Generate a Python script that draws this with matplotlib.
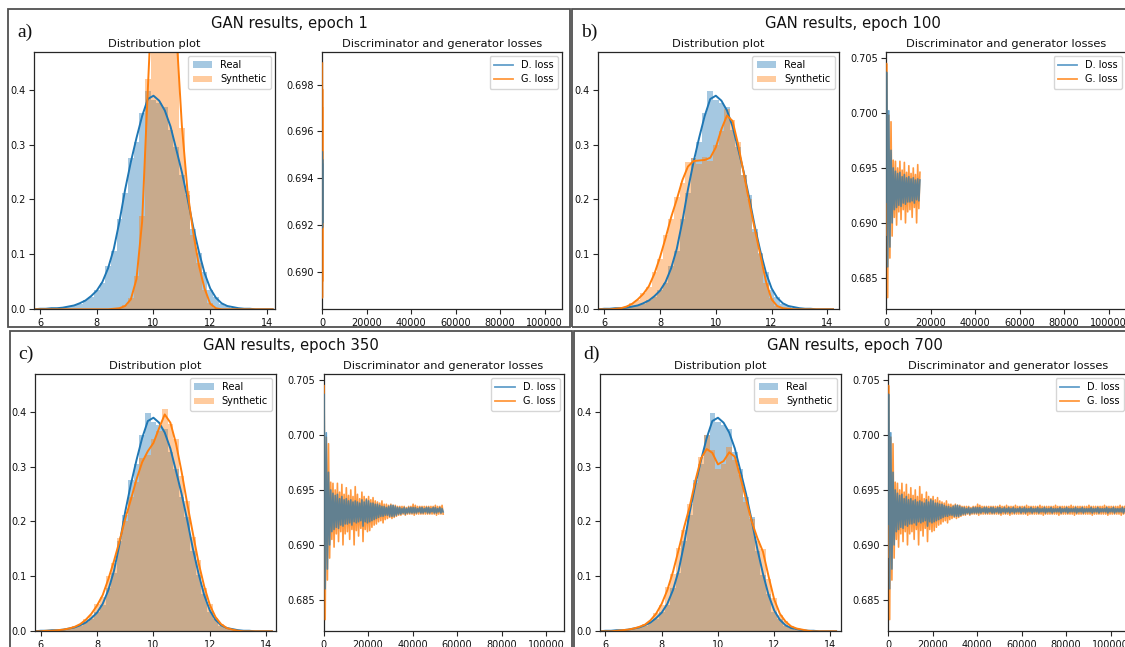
import numpy as np
import matplotlib
matplotlib.use("Agg")
import matplotlib.pyplot as plt
from matplotlib.patches import Rectangle
from matplotlib.ticker import MultipleLocator, FormatStrFormatter, FuncFormatter

# ---------------- data ----------------
epochs = [1, 100, 350, 700]
panel_labels = ["a)", "b)", "c)", "d)"]
iters_per_epoch = 154
total_epochs = 700

# KDE curves evaluated on grid 5.8 .. 14.2 step 0.2
kde_x = np.round(np.arange(5.8, 14.21, 0.2), 1)
real_kde = [0.000, 0.001, 0.001, 0.002, 0.002, 0.003, 0.005, 0.007, 0.011, 0.016,
            0.024, 0.034, 0.050, 0.075, 0.110, 0.160, 0.218, 0.268, 0.312, 0.352,
            0.383, 0.389, 0.380, 0.362, 0.333, 0.292, 0.250, 0.202, 0.150, 0.105,
            0.066, 0.038, 0.021, 0.011, 0.006, 0.004, 0.002, 0.001, 0.001, 0.000,
            0.000, 0.000, 0.000]
synth_kde_a = [0.000, 0.000, 0.000, 0.000, 0.000, 0.000, 0.000, 0.000, 0.000, 0.000,
               0.000, 0.000, 0.000, 0.000, 0.001, 0.002, 0.006, 0.018, 0.055, 0.160,
               0.400, 0.630, 0.720, 0.750, 0.700, 0.510, 0.335, 0.215, 0.140, 0.080,
               0.038, 0.010, 0.002, 0.000, 0.000, 0.000, 0.000, 0.000, 0.000, 0.000,
               0.000, 0.000, 0.000]
synth_kde_b = [0.000, 0.000, 0.000, 0.001, 0.002, 0.005, 0.010, 0.018, 0.028, 0.042,
               0.065, 0.095, 0.130, 0.168, 0.200, 0.235, 0.260, 0.270, 0.271, 0.272,
               0.276, 0.295, 0.328, 0.353, 0.343, 0.300, 0.248, 0.195, 0.145, 0.098,
               0.050, 0.018, 0.006, 0.002, 0.001, 0.000, 0.000, 0.000, 0.000, 0.000,
               0.000, 0.000, 0.000]
synth_kde_c = [0.000, 0.000, 0.001, 0.001, 0.002, 0.003, 0.005, 0.008, 0.013, 0.021,
               0.032, 0.047, 0.066, 0.095, 0.128, 0.165, 0.205, 0.240, 0.277, 0.308,
               0.328, 0.343, 0.370, 0.395, 0.380, 0.342, 0.290, 0.232, 0.178, 0.125,
               0.082, 0.048, 0.026, 0.013, 0.006, 0.003, 0.001, 0.000, 0.000, 0.000,
               0.000, 0.000, 0.000]
synth_kde_d = [0.000, 0.000, 0.000, 0.001, 0.002, 0.003, 0.005, 0.008, 0.012, 0.020,
               0.032, 0.050, 0.075, 0.108, 0.148, 0.190, 0.228, 0.275, 0.315, 0.332,
               0.325, 0.304, 0.310, 0.326, 0.318, 0.280, 0.240, 0.200, 0.170, 0.145,
               0.100, 0.058, 0.032, 0.018, 0.009, 0.005, 0.003, 0.001, 0.000, 0.000,
               0.000, 0.000, 0.000]

# histogram bar heights, bin centres 6.0 .. 14.0 step 0.2
hist_centers = np.round(np.arange(6.0, 14.01, 0.2), 1)
hist_width = 0.2
real_hist = [0.001, 0.001, 0.002, 0.002, 0.004, 0.005, 0.008, 0.010, 0.017, 0.022,
             0.036, 0.048, 0.078, 0.106, 0.165, 0.212, 0.275, 0.305, 0.358, 0.397,
             0.382, 0.376, 0.368, 0.326, 0.296, 0.244, 0.208, 0.146, 0.102, 0.068,
             0.036, 0.022, 0.010, 0.006, 0.003, 0.002, 0.001, 0.001, 0.000, 0.000,
             0.000]
synth_hist_a = [0.000, 0.000, 0.000, 0.000, 0.000, 0.000, 0.000, 0.000, 0.000, 0.000,
                0.000, 0.000, 0.000, 0.001, 0.002, 0.007, 0.020, 0.060, 0.170, 0.420,
                0.640, 0.710, 0.760, 0.690, 0.530, 0.330, 0.215, 0.135, 0.085, 0.036,
                0.011, 0.003, 0.000, 0.000, 0.000, 0.000, 0.000, 0.000, 0.000, 0.000,
                0.000]
synth_hist_b = [0.000, 0.000, 0.001, 0.002, 0.004, 0.011, 0.017, 0.030, 0.040, 0.068,
                0.092, 0.135, 0.165, 0.205, 0.230, 0.268, 0.275, 0.265, 0.278, 0.270,
                0.300, 0.325, 0.365, 0.345, 0.305, 0.245, 0.200, 0.140, 0.100, 0.048,
                0.020, 0.006, 0.002, 0.001, 0.000, 0.000, 0.000, 0.000, 0.000, 0.000,
                0.000]
synth_hist_c = [0.000, 0.001, 0.001, 0.002, 0.003, 0.005, 0.009, 0.012, 0.022, 0.030,
                0.050, 0.062, 0.100, 0.124, 0.170, 0.200, 0.245, 0.272, 0.315, 0.322,
                0.350, 0.365, 0.405, 0.378, 0.350, 0.283, 0.238, 0.172, 0.130, 0.078,
                0.050, 0.024, 0.014, 0.006, 0.003, 0.001, 0.000, 0.000, 0.000, 0.000,
                0.000]
synth_hist_d = [0.000, 0.000, 0.001, 0.002, 0.003, 0.005, 0.008, 0.013, 0.019, 0.034,
                0.048, 0.080, 0.105, 0.152, 0.185, 0.232, 0.270, 0.318, 0.358, 0.330,
                0.295, 0.305, 0.335, 0.312, 0.285, 0.235, 0.205, 0.165, 0.150, 0.095,
                0.060, 0.030, 0.018, 0.009, 0.005, 0.003, 0.001, 0.000, 0.000, 0.000,
                0.000]

# losses during the first epoch (every 10 iterations)
epoch1_iters = np.arange(0, 151, 10)
g_loss_epoch1 = [0.6989, 0.6889, 0.6978, 0.6896, 0.6970, 0.6903, 0.6962, 0.6908,
                 0.6958, 0.6912, 0.6955, 0.6915, 0.6952, 0.6918, 0.6950, 0.6920]
d_loss_epoch1 = [0.6951, 0.6919, 0.6948, 0.6921, 0.6946, 0.6923, 0.6944, 0.6924,
                 0.6943, 0.6925, 0.6942, 0.6926, 0.6941, 0.6927, 0.6940, 0.6928]

# max / min of the losses within each block of 1000 iterations
loss_block = 1000
d_hi = [0.7037, 0.7002, 0.6966, 0.6950, 0.6947, 0.6945, 0.6946, 0.6942, 0.6944, 0.6941,
        0.6942, 0.6940, 0.6941, 0.6939, 0.6940, 0.6939, 0.6938, 0.6941, 0.6939, 0.6941,
        0.6940, 0.6938, 0.6938, 0.6937, 0.6937, 0.6936, 0.6935, 0.6935, 0.6934, 0.6935,
        0.6936, 0.6936, 0.6935, 0.6934, 0.6934, 0.6933, 0.6934, 0.6933, 0.6934, 0.6934,
        0.6934, 0.6934, 0.6933, 0.6934, 0.6934, 0.6933, 0.6934, 0.6934, 0.6933, 0.6934,
        0.6934, 0.6933, 0.6934, 0.6933, 0.6934, 0.6933, 0.6934, 0.6933, 0.6933, 0.6934,
        0.6933, 0.6934, 0.6933, 0.6933, 0.6934, 0.6933, 0.6933, 0.6934, 0.6933, 0.6933,
        0.6934, 0.6933, 0.6933, 0.6934, 0.6933, 0.6933, 0.6933, 0.6934, 0.6933, 0.6933,
        0.6934, 0.6933, 0.6933, 0.6933, 0.6934, 0.6933, 0.6933, 0.6934, 0.6933, 0.6933,
        0.6933, 0.6934, 0.6933, 0.6933, 0.6934, 0.6933, 0.6933, 0.6933, 0.6934, 0.6933,
        0.6933, 0.6934, 0.6933, 0.6933, 0.6933, 0.6934, 0.6933, 0.6933]
d_lo = [0.6860, 0.6878, 0.6900, 0.6912, 0.6914, 0.6916, 0.6915, 0.6918, 0.6917, 0.6919,
        0.6919, 0.6920, 0.6918, 0.6921, 0.6920, 0.6921, 0.6922, 0.6917, 0.6921, 0.6920,
        0.6921, 0.6922, 0.6923, 0.6924, 0.6925, 0.6926, 0.6926, 0.6927, 0.6927, 0.6926,
        0.6926, 0.6926, 0.6927, 0.6928, 0.6928, 0.6929, 0.6928, 0.6929, 0.6929, 0.6929,
        0.6929, 0.6929, 0.6930, 0.6929, 0.6929, 0.6930, 0.6929, 0.6929, 0.6930, 0.6929,
        0.6929, 0.6930, 0.6929, 0.6930, 0.6929, 0.6930, 0.6929, 0.6930, 0.6930, 0.6929,
        0.6930, 0.6929, 0.6930, 0.6930, 0.6929, 0.6930, 0.6930, 0.6929, 0.6930, 0.6930,
        0.6929, 0.6930, 0.6930, 0.6929, 0.6930, 0.6930, 0.6930, 0.6929, 0.6930, 0.6930,
        0.6929, 0.6930, 0.6930, 0.6930, 0.6929, 0.6930, 0.6930, 0.6929, 0.6930, 0.6930,
        0.6930, 0.6929, 0.6930, 0.6930, 0.6929, 0.6930, 0.6930, 0.6930, 0.6929, 0.6930,
        0.6930, 0.6929, 0.6930, 0.6930, 0.6930, 0.6929, 0.6930, 0.6930]
g_hi = [0.7045, 0.6998, 0.6992, 0.6957, 0.6956, 0.6950, 0.6956, 0.6948, 0.6955, 0.6946,
        0.6952, 0.6945, 0.6950, 0.6944, 0.6953, 0.6946, 0.6942, 0.6948, 0.6944, 0.6942,
        0.6944, 0.6941, 0.6943, 0.6940, 0.6939, 0.6938, 0.6940, 0.6937, 0.6937, 0.6936,
        0.6937, 0.6936, 0.6936, 0.6935, 0.6935, 0.6935, 0.6935, 0.6934, 0.6935, 0.6935,
        0.6937, 0.6936, 0.6935, 0.6935, 0.6935, 0.6935, 0.6935, 0.6935, 0.6935, 0.6935,
        0.6936, 0.6935, 0.6935, 0.6936, 0.6935, 0.6935, 0.6935, 0.6936, 0.6935, 0.6935,
        0.6935, 0.6935, 0.6936, 0.6935, 0.6935, 0.6935, 0.6935, 0.6935, 0.6936, 0.6935,
        0.6935, 0.6935, 0.6935, 0.6935, 0.6935, 0.6936, 0.6935, 0.6935, 0.6935, 0.6935,
        0.6935, 0.6935, 0.6936, 0.6935, 0.6935, 0.6935, 0.6935, 0.6935, 0.6935, 0.6935,
        0.6936, 0.6935, 0.6935, 0.6935, 0.6935, 0.6935, 0.6935, 0.6936, 0.6935, 0.6935,
        0.6935, 0.6935, 0.6935, 0.6935, 0.6936, 0.6935, 0.6935, 0.6935]
g_lo = [0.6832, 0.6868, 0.6888, 0.6905, 0.6898, 0.6910, 0.6903, 0.6912, 0.6900, 0.6910,
        0.6912, 0.6905, 0.6914, 0.6900, 0.6913, 0.6908, 0.6915, 0.6903, 0.6914, 0.6912,
        0.6913, 0.6916, 0.6918, 0.6919, 0.6921, 0.6922, 0.6920, 0.6923, 0.6924, 0.6925,
        0.6924, 0.6925, 0.6926, 0.6927, 0.6927, 0.6928, 0.6927, 0.6928, 0.6928, 0.6928,
        0.6927, 0.6928, 0.6928, 0.6928, 0.6928, 0.6928, 0.6928, 0.6928, 0.6928, 0.6928,
        0.6927, 0.6928, 0.6928, 0.6928, 0.6927, 0.6928, 0.6928, 0.6928, 0.6928, 0.6928,
        0.6928, 0.6928, 0.6927, 0.6928, 0.6928, 0.6928, 0.6928, 0.6928, 0.6928, 0.6927,
        0.6928, 0.6928, 0.6928, 0.6928, 0.6928, 0.6928, 0.6927, 0.6928, 0.6928, 0.6928,
        0.6928, 0.6928, 0.6928, 0.6927, 0.6928, 0.6928, 0.6928, 0.6928, 0.6928, 0.6928,
        0.6928, 0.6927, 0.6928, 0.6928, 0.6928, 0.6928, 0.6928, 0.6928, 0.6927, 0.6928,
        0.6928, 0.6928, 0.6928, 0.6928, 0.6927, 0.6928, 0.6928, 0.6928]

synth_kdes = [synth_kde_a, synth_kde_b, synth_kde_c, synth_kde_d]
synth_hists = [synth_hist_a, synth_hist_b, synth_hist_c, synth_hist_d]

# ---------------- build loss series ----------------
def build_series(first, hi, lo):
    blocks = np.arange(len(hi)) * loss_block
    xs = np.concatenate([epoch1_iters,
                         np.ravel(np.column_stack([blocks + 250, blocks + 750]))])
    ys = np.concatenate([first, np.ravel(np.column_stack([hi, lo]))])
    return xs, ys

d_x, d_y = build_series(d_loss_epoch1, d_hi, d_lo)
g_x, g_y = build_series(g_loss_epoch1, g_hi, g_lo)

# ---------------- layout ----------------
W, H = 1125, 647
fig = plt.figure(figsize=(W / 100, H / 100), dpi=100)
fig.patch.set_facecolor("white")

def px_rect(x0, y0, x1, y1):
    return [x0 / W, 1 - y1 / H, (x1 - x0) / W, (y1 - y0) / H]

box_origins = [(8, 9), (572, 9), (9.5, 331), (574, 331)]
box_w, box_h = 562, 318
dist_xlims = [(5.78, 14.27), (5.77, 14.40), (5.81, 14.35), (5.80, 14.36)]

C0, C1 = "#1f77b4", "#ff7f0e"
tick_fs = 7
spine_col = "#262626"

def style_axes(ax):
    for s in ax.spines.values():
        s.set_color(spine_col)
        s.set_linewidth(0.9)
        s.set_zorder(2.5)
    ax.tick_params(labelsize=tick_fs, length=3.5, width=0.8, pad=2.5,
                   colors=spine_col, labelcolor="#111111")

leg_kw = dict(loc="upper right", fontsize=7, handlelength=2.0, borderpad=0.45,
              labelspacing=0.45, handletextpad=0.8, borderaxespad=0.4)

for i, (bx, by) in enumerate(box_origins):
    fig.patches.append(Rectangle((bx / W, 1 - (by + box_h) / H), box_w / W, box_h / H,
                                 transform=fig.transFigure, fill=False,
                                 edgecolor="#505050", linewidth=1.3))
    fig.text((bx + 281) / W, 1 - (by + 14.5) / H, f"GAN results, epoch {epochs[i]}",
             ha="center", va="center", fontsize=10.7, color="#111111")
    fig.text((bx + 9) / W, 1 - (by + 23) / H, panel_labels[i], ha="left", va="center",
             fontsize=14, family="Liberation Serif", color="#111111")

    # distribution plot
    ax1 = fig.add_axes(px_rect(bx + 25.8, by + 42.8, bx + 266.6, by + 300.3))
    ax1.bar(hist_centers, real_hist, width=hist_width, color=C0, alpha=0.4,
            linewidth=0, label="Real")
    ax1.plot(kde_x, real_kde, color=C0, lw=1.4)
    ax1.bar(hist_centers, synth_hists[i], width=hist_width, color=C1, alpha=0.4,
            linewidth=0, label="Synthetic")
    ax1.plot(kde_x, synth_kdes[i], color=C1, lw=1.4)
    ax1.set_xlim(*dist_xlims[i])
    ax1.set_ylim(0, 0.469)
    ax1.xaxis.set_major_locator(MultipleLocator(2))
    ax1.yaxis.set_major_locator(MultipleLocator(0.1))
    ax1.yaxis.set_major_formatter(FormatStrFormatter("%.1f"))
    ax1.set_title("Distribution plot", fontsize=8.2, pad=3.5, color="#111111")
    ax1.legend(**leg_kw)
    style_axes(ax1)

    # losses
    ax2 = fig.add_axes(px_rect(bx + 314, by + 42.8, bx + 554, by + 300.3))
    n_iter = epochs[i] * iters_per_epoch
    gm = g_x <= n_iter
    dm = d_x <= n_iter
    lw_loss = 1.8 if epochs[i] == 1 else 1.2
    lg, = ax2.plot(g_x[gm], g_y[gm], color=C1, lw=lw_loss, alpha=0.8,
                   label="G. loss", zorder=3)
    ld, = ax2.plot(d_x[dm], d_y[dm], color=C0, lw=lw_loss, alpha=0.7,
                   label="D. loss", zorder=3.1)
    ax2.set_xlim(0, total_epochs * iters_per_epoch)
    ax2.xaxis.set_major_locator(MultipleLocator(20000))
    ax2.xaxis.set_major_formatter(FuncFormatter(lambda v, p: f"{int(round(v))}"))
    if epochs[i] == 1:
        ax2.yaxis.set_major_locator(MultipleLocator(0.002))
    else:
        ax2.yaxis.set_major_locator(MultipleLocator(0.005))
    ax2.yaxis.set_major_formatter(FormatStrFormatter("%.3f"))
    ax2.set_title("Discriminator and generator losses", fontsize=8.2, pad=3.5,
                  color="#111111")
    leg = ax2.legend(handles=[ld, lg], **leg_kw)
    for h in leg.get_lines():
        h.set_linewidth(1.3)
    leg.set_zorder(5)
    style_axes(ax2)

fig.savefig("out.png", dpi=100)
